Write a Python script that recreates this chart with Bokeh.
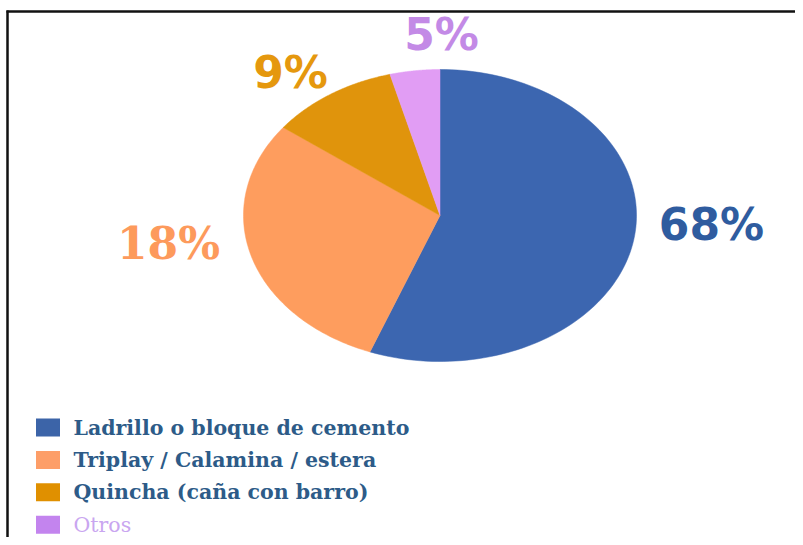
import numpy as np
from bokeh.plotting import figure
from bokeh.models import Range1d
from bokeh.core.properties import value
from bokeh.embed import file_html
from bokeh.resources import INLINE

# ---- data ----
categories = ["Ladrillo o bloque de cemento", "Triplay / Calamina / estera",
              "Quincha (caña con barro)", "Otros"]
# wedge shares as drawn in the picture (the printed labels differ)
slice_shares = [55.8, 29.5, 10.6, 4.1]
pct_labels = ["68%", "18%", "9%", "5%"]

# ---- styles ----
slice_colors = ["#3c66b0", "#fe9d5e", "#e0940c", "#e19df4"]
legend_colors = ["#3c64a8", "#fd9e68", "#e09000", "#c384ee"]
label_colors = ["#2f5c9f", "#fd9a5c", "#e5980e", "#c38ae6"]
legend_text_colors = ["#2d5b88", "#2d5b88", "#2d5b88", "#c9a6f0"]

W, H = 795, 537


def fx(x):
    return x


def fy(y):
    return H - y


p = figure(width=W, height=H, output_backend="svg", toolbar_location=None,
           x_range=Range1d(0, W), y_range=Range1d(0, H), min_border=0,
           background_fill_color="white", border_fill_color="white")
p.xaxis.visible = False
p.yaxis.visible = False
p.grid.visible = False
p.outline_line_color = None

# ---- elliptical pie ----
cx, cy = fx(439.5), fy(215)
rx, ry = 196.5, 146.0
total = float(sum(slice_shares))
cum = np.concatenate([[0.0], np.cumsum(slice_shares)]) / total
xs, ys = [], []
for i in range(len(slice_shares)):
    t = np.linspace(cum[i], cum[i + 1], 120) * 2 * np.pi
    px = cx + rx * np.sin(t)
    py = cy + ry * np.cos(t)
    xs.append(np.concatenate([[cx], px, [cx]]).tolist())
    ys.append(np.concatenate([[cy], py, [cy]]).tolist())
p.patches(xs=xs, ys=ys, fill_color=slice_colors, line_color=slice_colors,
          line_width=0.5)

# ---- percentage labels ----
label_pos = [(711, 224), (168, 243), (290, 72), (441, 34)]
label_fonts = ["DejaVu Sans", "DejaVu Serif", "DejaVu Sans", "DejaVu Sans"]
for i, lab in enumerate(pct_labels):
    lx, ly = label_pos[i]
    p.text(x=[fx(lx)], y=[fy(ly)], text=[lab], text_color=label_colors[i],
           text_font=value(label_fonts[i]), text_font_style="bold",
           text_font_size="44px", text_align="center", text_baseline="middle")

# ---- legend ----
leg_y0, leg_dy = 427, 32.4
for i, cat in enumerate(categories):
    yy = fy(leg_y0 + i * leg_dy)
    p.rect(x=[fx(47.5)], y=[yy], width=24, height=18,
           fill_color=legend_colors[i], line_color=None)
    p.text(x=[fx(73)], y=[yy], text=[cat], text_color=legend_text_colors[i],
           text_font=value("DejaVu Serif"),
           text_font_style="bold" if i < 3 else "normal",
           text_font_size="20.5px", text_align="left", text_baseline="middle")

# ---- frame lines (top and left) ----
p.segment(x0=[fx(6)], y0=[fy(11)], x1=[fx(W)], y1=[fy(11)],
          line_color="#111111", line_width=2.5)
p.segment(x0=[fx(7)], y0=[fy(10)], x1=[fx(7)], y1=[fy(H)],
          line_color="#111111", line_width=2.5)

open("out.html", "w").write(file_html(p, INLINE))
